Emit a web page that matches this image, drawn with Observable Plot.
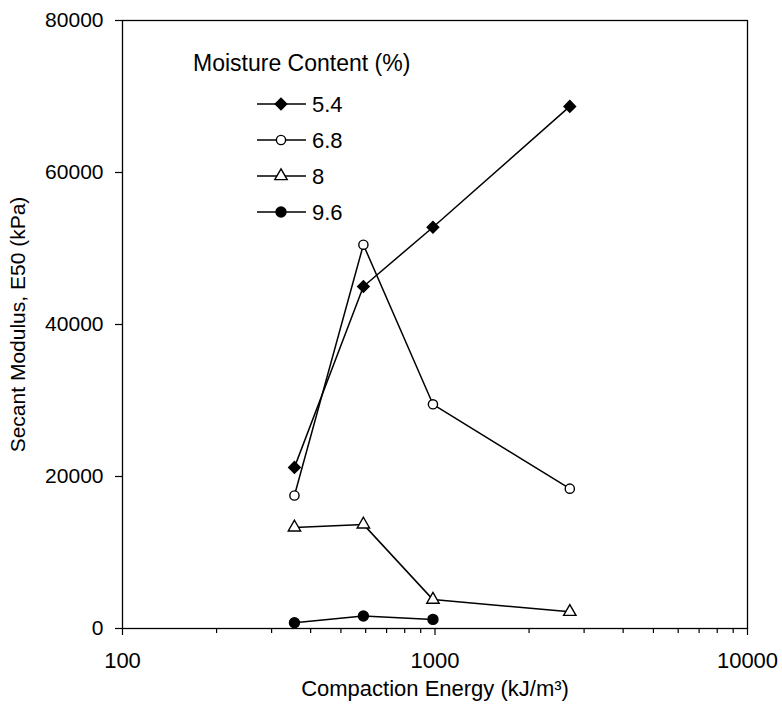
<!DOCTYPE html>
<html><head><meta charset="utf-8">
<script src="https://cdn.jsdelivr.net/npm/d3@7"></script>
<script src="https://cdn.jsdelivr.net/npm/@observablehq/plot@0.6"></script>
<style>
body{margin:0;background:#fff;}
#wrap{position:relative;width:782px;height:705px;font-family:"Liberation Sans",Arial,sans-serif;}
#legend{position:absolute;left:0;top:0;pointer-events:none;}
</style></head><body><div id="wrap"></div>
<script>
const energy = [355, 590, 985, 2700];
const mc54 = [21200, 45000, 52800, 68700];
const mc68 = [17500, 50500, 29500, 18400];
const mc80 = [13300, 13700, 3800, 2200];
const mc96 = [750, 1650, 1200];
const seriesNames = ["5.4", "6.8", "8", "9.6"];
const seriesValues = [mc54, mc68, mc80, mc96];
const xTicks = [100, 1000, 10000];
const xMinor = [200, 300, 400, 500, 600, 700, 800, 900, 2000, 3000, 4000, 5000, 6000, 7000, 8000, 9000];
const yTicks = [0, 20000, 40000, 60000, 80000];
const legendTitle = "Moisture Content (%)";

const styles = [
  {symbol: "diamond2", fill: "black", r: 5.2},
  {symbol: "circle", fill: "white", r: 4.6},
  {symbol: "triangle", fill: "white", r: 4.6},
  {symbol: "circle", fill: "black", r: 5}
];

const rows = [];
seriesNames.forEach((s, i) => seriesValues[i].forEach((v, j) => rows.push({series: s, energy: energy[j], e50: v})));

const font = "'Liberation Sans', Arial, sans-serif";
const chart = Plot.plot({
  width: 782, height: 705,
  marginLeft: 122, marginRight: 35, marginTop: 20, marginBottom: 77,
  style: {fontFamily: font, fontSize: "21px", color: "black", background: "white", overflow: "visible"},
  x: {type: "log", domain: [100, 10000]},
  y: {domain: [0, 80000]},
  marks: [
    Plot.axisX({ticks: xMinor, tickSize: 5, tickFormat: () => "", label: null, strokeWidth: 1.2}),
    Plot.axisX({ticks: xTicks, tickSize: 7, tickPadding: 17, tickFormat: d => String(d), strokeWidth: 1.2,
      label: "Compaction Energy (kJ/m³)", labelAnchor: "center", labelArrow: "none", labelOffset: 67, fontSize: 22}),
    Plot.axisY({ticks: yTicks, tickSize: 7, tickPadding: 12, tickFormat: d3.format("d"), strokeWidth: 1.2,
      label: "Secant Modulus, E50 (kPa)", labelAnchor: "center", labelArrow: "none", labelOffset: 112}),
    Plot.frame({stroke: "black", strokeWidth: 1.3}),
    Plot.line(rows, {x: "energy", y: "e50", z: "series", stroke: "black", strokeWidth: 1.5}),
    ...seriesNames.map((s, i) => Plot.dot(rows.filter(d => d.series === s), {
      x: "energy", y: "e50", symbol: () => styles[i].symbol, r: styles[i].r,
      fill: styles[i].fill, stroke: "black", strokeWidth: 1.4
    }))
  ],
  symbol: {type: "identity"}
});
const wrap = document.getElementById("wrap");
wrap.appendChild(chart);

// legend
const lg = d3.select(wrap).append("svg").attr("id", "legend").attr("width", 782).attr("height", 705)
  .style("font-family", font);
lg.append("text").attr("x", 193).attr("y", 63).attr("dy", "0.35em").attr("font-size", 23).text(legendTitle);
const symMap = {diamond2: d3.symbolDiamond2, circle: d3.symbolCircle, triangle: d3.symbolTriangle};
seriesNames.forEach((s, i) => {
  const y = 104 + i * 36;
  const g = lg.append("g").attr("transform", `translate(257,${y})`);
  g.append("line").attr("x1", 0).attr("x2", 49).attr("stroke", "black").attr("stroke-width", 1.5);
  g.append("path").attr("transform", "translate(24,0)")
    .attr("d", d3.symbol(symMap[styles[i].symbol], Math.PI * styles[i].r * styles[i].r)())
    .attr("fill", styles[i].fill).attr("stroke", "black").attr("stroke-width", 1.4);
  g.append("text").attr("x", 55).attr("dy", "0.35em").attr("font-size", 22).text(s);
});
</script></body></html>
